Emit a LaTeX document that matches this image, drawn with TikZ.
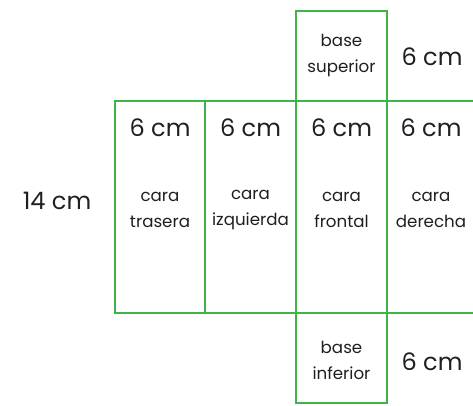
\documentclass[tikz,border=0pt]{standalone}
\usepackage{fontspec}
\setmainfont{Poppins}
\usepackage{tikz}
\definecolor{netgreen}{RGB}{61,181,74}
\tikzset{
  face/.style={draw=netgreen,line width=2.2pt},
  size/.style={font=\fontsize{18}{20}\selectfont,text=black!88},
  facename/.style={align=center,font=\fontsize{12.5}{19.5}\selectfont,text=black!88}
}

\begin{document}
\begin{tikzpicture}[x=0.75pt,y=0.75pt]
  \useasboundingbox (0,0) rectangle (473,405);
  \draw[face] (296,304) rectangle (387,394); % top lid
  \draw[face] (115,92) rectangle (205,304); % back
  \draw[face] (205,92) rectangle (296,304); % left
  \draw[face] (296,92) rectangle (387,304); % front
  \draw[face] (473,304) -- (387,304) -- (387,92) -- (473,92); % right, cut off
  \draw[face] (296,2) rectangle (387,92); % bottom lid
  \node[facename] (superior) at (341.5,350) {base\\superior};
  \node[size] (topsize) at (432,348) {6 cm};
  \node[size] (backsize) at (160,277) {6 cm};
  \node[size] (leftsize) at (250.5,277) {6 cm};
  \node[size] (frontsize) at (341.5,277) {6 cm};
  \node[size] (rightsize) at (431,277) {6 cm};
  \node[size] (height) at (57,204) {14 cm};
  \node[facename] (back) at (160,195) {cara\\trasera};
  \node[facename] (left) at (250.5,195) {cara\\izquierda};
  \node[facename] (front) at (341.5,195) {cara\\frontal};
  \node[facename] (right) at (431,195) {cara\\derecha};
  \node[facename] (inferior) at (341.5,45) {base\\inferior};
  \node[size] (bottomsize) at (432,43) {6 cm};
\end{tikzpicture}
\end{document}
